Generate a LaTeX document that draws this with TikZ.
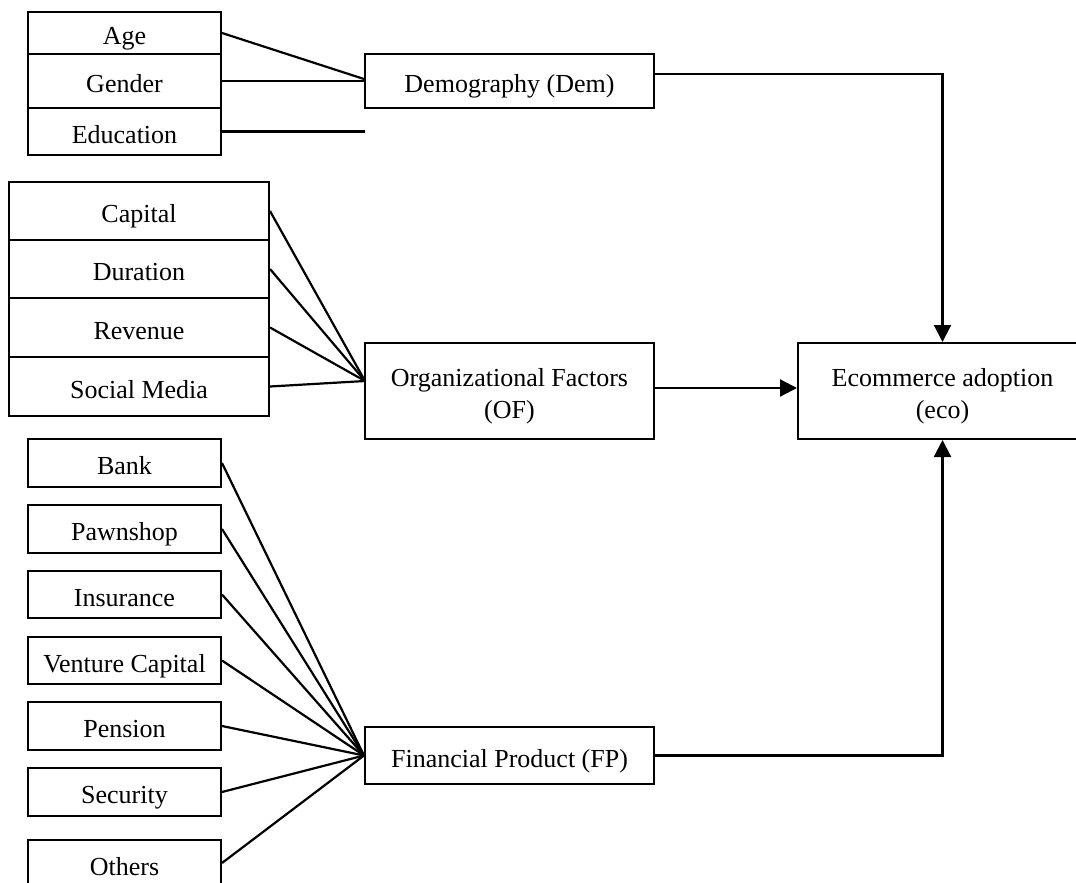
\documentclass[tikz,border=0pt]{standalone}
\usepackage{fontspec}
\setmainfont{Liberation Serif}
\usetikzlibrary{arrows.meta,calc}
\tikzset{
  box/.style={draw, line width=2pt, inner sep=0pt, align=center, font=\fontsize{26}{32}\selectfont, text height=24pt, text depth=1pt},
  twoline/.style={text height=60pt, text depth={}},
  link/.style={line width=2.2pt},
  arr/.style={line width=2.2pt, -{Triangle[length=17pt,width=17pt]}}
}
\begin{document}
\begin{tikzpicture}[x=1pt,y=-1pt]
\useasboundingbox (0,0) rectangle (1076,883);
\clip (0,0) rectangle (1076,883);
% top group
\node[box, minimum width=193pt, minimum height=42pt] (age) at (124.5,33) {Age};
\node[box, minimum width=193pt, minimum height=54pt] (gen) at (124.5,81) {Gender};
\node[box, minimum width=193pt, minimum height=47pt] (edu) at (124.5,131.5) {Education};
% middle group
\node[box, minimum width=260pt, minimum height=58pt] (cap) at (139,211) {Capital};
\node[box, minimum width=260pt, minimum height=58pt] (dur) at (139,269) {Duration};
\node[box, minimum width=260pt, minimum height=59pt] (rev) at (139,327.5) {Revenue};
\node[box, minimum width=260pt, minimum height=59pt] (soc) at (139,386.5) {Social Media};
% bottom group
\node[box, minimum width=193pt, minimum height=48pt] (bank) at (124.5,463) {Bank};
\node[box, minimum width=193pt, minimum height=48pt] (pawn) at (124.5,529) {Pawnshop};
\node[box, minimum width=193pt, minimum height=47pt] (ins) at (124.5,594.5) {Insurance};
\node[box, minimum width=193pt, minimum height=47pt] (ven) at (124.5,660.5) {Venture Capital};
\node[box, minimum width=193pt, minimum height=48pt] (pen) at (124.5,726) {Pension};
\node[box, minimum width=193pt, minimum height=48pt] (sec) at (124.5,792) {Security};
\node[box, minimum width=193pt, minimum height=48pt] (oth) at (124.5,864) {Others};
% central boxes
\node[box, minimum width=289pt, minimum height=54pt] (dem) at (509.5,81) {Demography (Dem)};
\node[box, twoline, minimum width=289pt, minimum height=96pt] (of) at (509.5,391) {Organizational Factors\\(OF)};
\node[box, minimum width=289pt, minimum height=57pt] (fp) at (509.5,755.5) {Financial Product (FP)};
\node[box, twoline, minimum width=289pt, minimum height=96pt] (eco) at (942.5,391) {Ecommerce adoption\\(eco)};
% free ends / join points
\coordinate (eduend) at (365,131.5);
\coordinate (ofin) at (365,381);
% connectors top
\draw[link] (age.east) -- ($(dem.west)+(0,-2)$);
\draw[link] (gen.east) -- (dem.west);
\draw[link] (edu.east) -- (eduend);
% connectors middle
\foreach \n in {cap,dur,rev,soc} \draw[link] (\n.east) -- (ofin);
% connectors bottom
\foreach \n in {bank,pawn,ins,ven,pen,sec} \draw[link] (\n.east) -- (fp.west);
\draw[link] ($(oth.east)+(0,-1)$) -- (fp.west);
% arrows
\draw[arr] ($(dem.east)+(0,-7)$) -| (eco.north);
\draw[arr] ($(of.east)+(0,-3)$) -- ($(eco.west)+(0,-3)$);
\draw[arr] (fp.east) -| (eco.south);
\end{tikzpicture}
\end{document}
